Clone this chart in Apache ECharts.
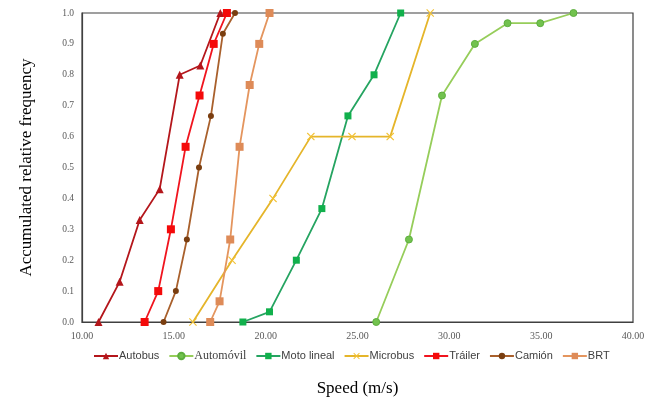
<!DOCTYPE html>
<html><head><meta charset="utf-8">
<script src="https://cdn.jsdelivr.net/npm/echarts@6/dist/echarts.min.js"></script>
<style>html,body{margin:0;padding:0;background:#fff}#c{width:656px;height:400px}</style>
</head><body><div id="c"></div>
<script>
var xTicks = [10, 15, 20, 25, 30, 35, 40];
var yTicks = [0, 0.1, 0.2, 0.3, 0.4, 0.5, 0.6, 0.7, 0.8, 0.9, 1.0];

var autobusX = [10.90, 12.05, 13.14, 14.23, 15.32, 16.44, 17.53];
var autobusY = [0, 0.13, 0.33, 0.43, 0.80, 0.83, 1.0];
var automovilX = [26.02, 27.80, 29.60, 31.39, 33.17, 34.95, 36.76];
var automovilY = [0, 0.267, 0.733, 0.90, 0.967, 0.967, 1.0];
var motoX = [18.76, 20.21, 21.67, 23.06, 24.48, 25.90, 27.35];
var motoY = [0, 0.033, 0.20, 0.367, 0.667, 0.80, 1.0];
var microbusX = [16.04, 18.17, 20.40, 22.46, 24.70, 26.78, 28.96];
var microbusY = [0, 0.20, 0.40, 0.60, 0.60, 0.60, 1.0];
var trailerX = [13.41, 14.15, 14.84, 15.64, 16.40, 17.17, 17.89];
var trailerY = [0, 0.10, 0.30, 0.567, 0.733, 0.90, 1.0];
var camionX = [14.44, 15.11, 15.71, 16.37, 17.02, 17.67, 18.33];
var camionY = [0, 0.10, 0.267, 0.50, 0.667, 0.933, 1.0];
var brtX = [16.98, 17.49, 18.07, 18.58, 19.13, 19.65, 20.21];
var brtY = [0, 0.067, 0.267, 0.567, 0.767, 0.90, 1.0];

function pairs(xs, ys){ return xs.map(function(x,i){ return [x, ys[i]]; }); }
var cross = 'path://M0,1L1,0L5,4L9,0L10,1L6,5L10,9L9,10L5,6L1,10L0,9L4,5Z';

function mk(name, xs, ys, lineColor, markColor, symbol, size, extra){
  var s = {
    name: name, type: 'line', data: pairs(xs, ys),
    symbol: symbol, symbolSize: size, showAllSymbol: true,
    lineStyle: { color: lineColor, width: 1.8 },
    itemStyle: { color: markColor, borderColor: markColor, borderWidth: 0 },
    emphasis: { disabled: true }, animation: false
  };
  if (extra) Object.assign(s.itemStyle, extra);
  return s;
}

var chart = echarts.init(document.getElementById('c'), null, {renderer: 'canvas'});
chart.setOption({
  animation: false,
  grid: { left: 82, right: 23, top: 13, bottom: 78, show: true, borderColor: '#404040', borderWidth: 1.2,
    backgroundColor: 'transparent', containLabel: false, outerBoundsMode: 'none' },
  xAxis: {
    type: 'value', min: 10, max: 40, interval: 5,
    name: 'Speed (m/s)', nameLocation: 'middle', nameGap: 58,
    nameTextStyle: { fontFamily: 'Liberation Serif', fontSize: 17, color: '#000' },
    axisLine: { show: true, onZero: false, lineStyle: { color: '#404040', width: 1.2 } },
    axisTick: { show: false }, splitLine: { show: false },
    axisLabel: { fontFamily: 'Liberation Serif', fontSize: 10, color: '#595959', margin: 9,
      formatter: function(v){ return v.toFixed(2); } }
  },
  yAxis: {
    type: 'value', min: 0, max: 1, interval: 0.1,
    name: 'Accumulated relative frequency', nameLocation: 'middle', nameGap: 47,
    nameTextStyle: { fontFamily: 'Liberation Serif', fontSize: 17, color: '#000' },
    axisLine: { show: true, lineStyle: { color: '#404040', width: 1.2 } },
    axisTick: { show: false }, splitLine: { show: false },
    axisLabel: { fontFamily: 'Liberation Serif', fontSize: 9.5, color: '#595959', margin: 8,
      formatter: function(v){ return v.toFixed(1); } }
  },
  legend: {
    left: 88, top: 345, itemWidth: 24, itemHeight: 8, itemGap: 9,
    textStyle: { fontFamily: 'Liberation Sans', fontSize: 11, color: '#404040', padding: [0,0,0,-4],
      rich: { s: { fontFamily: 'Liberation Serif', fontSize: 12, color: '#404040' } } },
    formatter: function(n){ return n === 'Automóvil' ? '{s|' + n + '}' : n; },
    data: ['Autobus', 'Automóvil', 'Moto lineal', 'Microbus', 'Tráiler', 'Camión', 'BRT']
  },
  series: [
    mk('Autobus', autobusX, autobusY, '#B4161B', '#B4161B', 'triangle', 8),
    mk('Automóvil', automovilX, automovilY, '#96CD5A', '#72C24E', 'circle', 7, { borderColor: '#5DAE3E', borderWidth: 1 }),
    mk('Moto lineal', motoX, motoY, '#25A461', '#11B04C', 'rect', 7),
    mk('Microbus', microbusX, microbusY, '#E5B52A', '#F2C235', cross, 8),
    mk('Tráiler', trailerX, trailerY, '#F0141E', '#F40A0A', 'rect', 8),
    mk('Camión', camionX, camionY, '#A9602C', '#7A3E10', 'circle', 6),
    mk('BRT', brtX, brtY, '#E4955E', '#DE8B58', 'rect', 8)
  ]
});
</script></body></html>
